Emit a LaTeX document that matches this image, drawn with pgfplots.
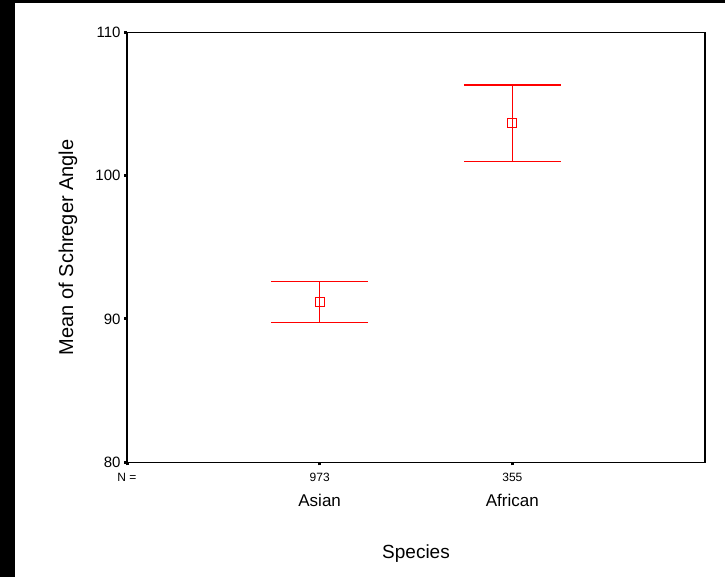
\documentclass[border=0pt]{standalone}
\usepackage{pgfplots}
\pgfplotsset{compat=1.18}
\usepackage{fontspec}
\setmainfont{Liberation Sans}

\begin{document}
\begin{tikzpicture}
\useasboundingbox (0pt,0pt) rectangle (725pt,577pt);
% scan edges
\fill[black] (0pt,0pt) rectangle (14.7pt,577pt);
\fill[black] (0pt,573.7pt) rectangle (725pt,577pt);
\begin{axis}[
  at={(127pt,114.7pt)}, anchor=south west,
  scale only axis, width=578pt, height=430pt,
  xmin=0, xmax=3, ymin=80, ymax=110,
  xtick={0,1,2}, xticklabels={N =,973,355},
  ytick={80,90,100,110},
  xtick pos=bottom, ytick pos=left,
  tick align=outside, major tick length=3pt,
  tick style={line width=3pt, black},
  axis line style={line width=1.5pt},
  /pgf/number format/assume math mode=true,
  yticklabel style={font=\fontsize{15}{18}\selectfont},
  xticklabel style={font=\fontsize{12}{14}\selectfont, anchor=base, yshift=-16pt},
  every axis x label/.style={at={(axis description cs:0.5,-0.2226)}, anchor=base,
    font=\fontsize{19}{22}\selectfont},
  every axis y label/.style={at={(axis description cs:-0.0931,0.5)}, rotate=90, anchor=base,
    font=\fontsize{20}{24}\selectfont},
  xlabel={Species},
  ylabel={Mean of Schreger Angle},
  clip=false,
]
\addplot[draw=red, line width=1.3pt, only marks, mark=square, mark size=4.5pt,
  mark options={draw=red, line width=1.3pt},
  error bars/.cd, y dir=both, y explicit,
  error bar style={draw=red, line width=1.3pt},
  error mark options={rotate=90, draw=red, line width=1.3pt, mark size=48.5pt}]
coordinates {
  (1,91.2) +- (0,1.43)
  (2,103.65) +- (0,2.67)
};
\node[font=\fontsize{17}{20}\selectfont, anchor=base, yshift=-44.7pt] at (axis cs:1,80) {Asian};
\node[font=\fontsize{17}{20}\selectfont, anchor=base, yshift=-44.7pt] at (axis cs:2,80) {African};
\end{axis}
\end{tikzpicture}
\end{document}
